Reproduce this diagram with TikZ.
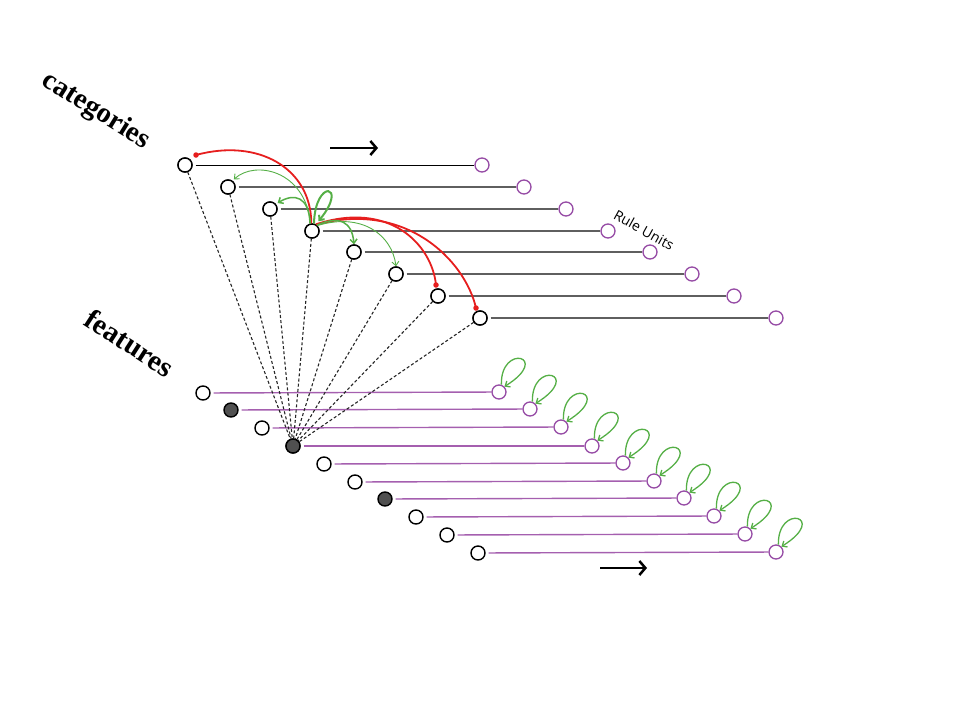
\documentclass[tikz,border=0pt]{standalone}
\usepackage{fontspec}
\setmainfont{Liberation Serif}
\newfontfamily\rulefont{Open Sans}
\usetikzlibrary{arrows.meta}
\definecolor{rulepurple}{RGB}{150,75,165}
\definecolor{linepurple}{RGB}{165,95,175}
\definecolor{loopgreen}{RGB}{85,175,70}
\definecolor{arcred}{RGB}{230,30,30}
\definecolor{rowgray}{RGB}{95,95,95}
\definecolor{darkfill}{RGB}{80,80,80}
\tikzset{
  catnode/.style={circle,draw=black,line width=1.4pt,fill=white,minimum size=14pt,inner sep=0pt},
  featfilled/.style={catnode,fill=darkfill},
  endnode/.style={circle,draw=rulepurple,line width=1.3pt,fill=white,minimum size=14pt,inner sep=0pt},
  catline/.style={draw=rowgray,line width=1.4pt,shorten <=3pt},
  featline/.style={draw=linepurple,line width=1.4pt,shorten <=3pt},
  dashlink/.style={draw=black!85,line width=1.1pt,dash pattern=on 3pt off 2.2pt},
  garrow/.style={draw=loopgreen,-{Straight Barb[length=4pt,width=7pt]}},
  redarc/.style={draw=arcred,line width=1.8pt},
  reddot/.style={circle,fill=arcred,minimum size=5.5pt,inner sep=0pt},
  bigarrow/.style={draw=black,line width=2.5pt,-{Straight Barb[length=6pt,width=14pt]}}
}
\begin{document}
\begin{tikzpicture}[x=1pt,y=1pt]
\useasboundingbox (0,0) rectangle (960,-720);
% category nodes
\foreach \i/\x/\y in {1/185/165,2/228/187,3/270/209,4/312/231,5/354/252,6/396/274,7/438/296,8/480/318}
  \node[catnode] (c\i) at (\x,-\y) {};
\foreach \i/\x/\y in {1/482/165,2/524/187,3/566/209,4/608/231,5/650/252,6/692/274,7/734/296,8/776/318}
  \node[endnode] (r\i) at (\x,-\y) {};
% feature nodes
\foreach \i/\x/\y in {1/203/393,3/262/428,5/324/464,6/355/482,8/416/517,9/447/535,10/478/553}
  \node[catnode] (f\i) at (\x,-\y) {};
\foreach \i/\x/\y in {2/231/410,4/293/446,7/385/499}
  \node[featfilled] (f\i) at (\x,-\y) {};
\foreach \i/\x/\y in {1/499/392,2/530/409,3/561/427,4/592/446,5/623/463,6/654/481,7/684/498,8/714/516,9/745/534,10/776/552}
  \node[endnode] (fr\i) at (\x,-\y) {};
% row lines
\draw[draw=black,line width=1pt,shorten <=3pt] (c1) -- (r1);
\foreach \i in {2,...,8} \draw[catline] (c\i) -- (r\i);
\foreach \i in {1,...,10} \draw[featline] (f\i) -- (fr\i);
% dashed links
\foreach \i in {1,...,8} \draw[dashlink] (c\i) -- (f4);
% redraw nodes on top
\foreach \i in {1,...,8} \node[catnode] at (c\i) {};
\node[featfilled] at (f4) {};
% self loops on features
\foreach \i in {1,...,10}
  \draw[garrow,line width=1.3pt] (fr\i.72) .. controls +(-1,42) and +(48,30) .. (fr\i.45);
% red arcs
\node[reddot] (d1) at (196,-155) {};
\node[reddot] (d2) at (436,-285) {};
\node[reddot] (d3) at (476,-308) {};
\draw[redarc] (c4.95) .. controls (311,-168) and (258,-138) .. (d1.center);
\draw[redarc] (c4.60) .. controls (390,-200) and (432,-245) .. (d2.center);
\draw[redarc] (c4.55) .. controls (405,-200) and (465,-260) .. (d3.center);
% green arrows from c4
\draw[garrow,line width=0.9pt,shorten >=2pt] (c4.100) .. controls (305,-170) and (255,-160) .. (c2.55);
\draw[garrow,line width=1.5pt,shorten >=2pt] (c4.105) .. controls (309,-196) and (294,-193) .. (c3.40);
\draw[garrow,line width=2pt,shorten >=4pt] (c4.75) .. controls (315,-178) and (349,-184) .. (c4.60);
\draw[garrow,line width=1.5pt] (c4.50) .. controls (340,-215) and (352,-222) .. (c5.north);
\draw[garrow,line width=0.9pt] (c4.45) .. controls (362,-212) and (392,-235) .. (c6.north);
% direction arrows
\coordinate (a1s) at (330,-148); \coordinate (a1e) at (378,-148);
\coordinate (a2s) at (600,-568); \coordinate (a2e) at (647,-568);
\draw[bigarrow] (a1s) -- (a1e);
\draw[bigarrow] (a2s) -- (a2e);
% labels
\node[rotate=-32,font=\bfseries\fontsize{28.5}{30}\selectfont] (lcat) at (96,-111) {categories};
\node[rotate=-33,font=\bfseries\fontsize{29}{30}\selectfont] (lfeat) at (130,-343) {features};
\node[rotate=-29,font=\rulefont\fontsize{14}{16}\selectfont] (lrule) at (644,-230) {Rule Units};
\end{tikzpicture}
\end{document}
